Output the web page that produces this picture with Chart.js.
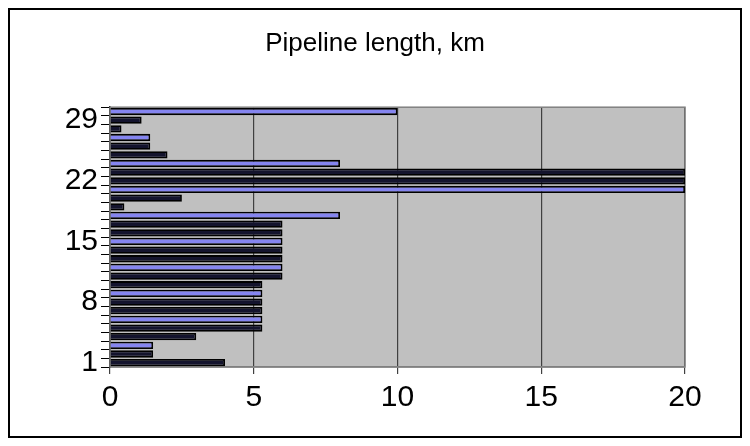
<!DOCTYPE html>
<html>
<head>
<meta charset="utf-8">
<script src="https://cdn.jsdelivr.net/npm/chart.js@4.4.1/dist/chart.umd.min.js"></script>
<style>
  html, body { margin: 0; padding: 0; background: #fff; }
  #wrap { width: 750px; height: 446px; }
</style>
</head>
<body>
<div id="wrap"><canvas id="pipeChart" width="750" height="446"></canvas></div>
<script>
// Pipeline sections, bottom (1) to top (30)
var sections = ['1', '2', '3', '4', '5', '6', '7', '8', '9', '10',
    '11', '12', '13', '14', '15', '16', '17', '18', '19', '20',
    '21', '22', '23', '24', '25', '26', '27', '28', '29', '30'];
// Length of each section, km
var lengthKm = [4.0, 1.5, 1.5, 3.0, 5.3, 5.3, 5.3, 5.3, 5.3, 5.3,
    6.0, 6.0, 6.0, 6.0, 6.0, 6.0, 6.0, 8.0, 0.5, 2.5,
    20, 20, 20, 8.0, 2.0, 1.4, 1.4, 0.4, 1.1, 10.0];
var xTicks = [0, 5, 10, 15, 20];
var labelEvery = 7;

// Gray plot area, plot frame and the outer border of the chart
var frame = {
    id: 'frame',
    beforeDraw: function (chart) {
        var c = chart.ctx, a = chart.chartArea;
        c.save();
        c.fillStyle = '#c0c0c0';
        c.fillRect(a.left, a.top, a.right - a.left, a.bottom - a.top);
        c.strokeStyle = '#000';
        c.lineWidth = 2;
        c.strokeRect(9, 9, 732, 428);
        c.restore();
    },
    beforeDatasetsDraw: function (chart) {
        var c = chart.ctx, a = chart.chartArea;
        c.save();
        c.strokeStyle = '#808080';
        c.lineWidth = 1.5;
        c.strokeRect(a.left, a.top, a.right - a.left, a.bottom - a.top);
        c.restore();
    }
};

var ctx = document.getElementById('pipeChart').getContext('2d');
var pipeChart = new Chart(ctx, {
    type: 'bar',
    data: {
        labels: sections,
        datasets: [{
            label: 'Pipeline length, km',
            data: lengthKm,
            backgroundColor: function (c) {
                return c.dataIndex % 3 === 2 ? '#8585f0' : '#14142e';
            },
            borderColor: '#000',
            borderWidth: 1.8,
            barPercentage: 0.84,
            categoryPercentage: 1.0
        }]
    },
    options: {
        indexAxis: 'y',
        responsive: false,
        animation: false,
        layout: { padding: { left: 65, right: 65, top: 0, bottom: 0 } },
        plugins: {
            legend: { display: false },
            title: {
                display: true,
                text: 'Pipeline length, km',
                color: '#000',
                font: { family: 'Liberation Sans, Arial, sans-serif', size: 26, weight: 'normal' },
                padding: { top: 28, bottom: 48 }
            }
        },
        scales: {
            x: {
                min: 0,
                max: 20,
                afterBuildTicks: function (s) {
                    s.ticks = xTicks.map(function (v) { return { value: v }; });
                },
                afterFit: function (s) { s.height = 79; },
                ticks: {
                    color: '#000',
                    padding: 6,
                    font: { family: 'Liberation Sans, Arial, sans-serif', size: 30 }
                },
                grid: { color: '#404040', lineWidth: 1.2, tickLength: 7 },
                border: { color: '#808080', width: 1.5 }
            },
            y: {
                reverse: true,
                afterFit: function (s) { s.width = 45; },
                ticks: {
                    autoSkip: false,
                    color: '#000',
                    padding: 3,
                    font: { family: 'Liberation Sans, Arial, sans-serif', size: 30 },
                    callback: function (val, index) {
                        return index % labelEvery === 0 ? this.getLabelForValue(val) : '';
                    }
                },
                grid: { offset: true, drawOnChartArea: false, tickLength: 9, color: '#000' },
                border: { color: '#000', width: 1.5 }
            }
        }
    },
    plugins: [frame]
});
</script>
</body>
</html>
